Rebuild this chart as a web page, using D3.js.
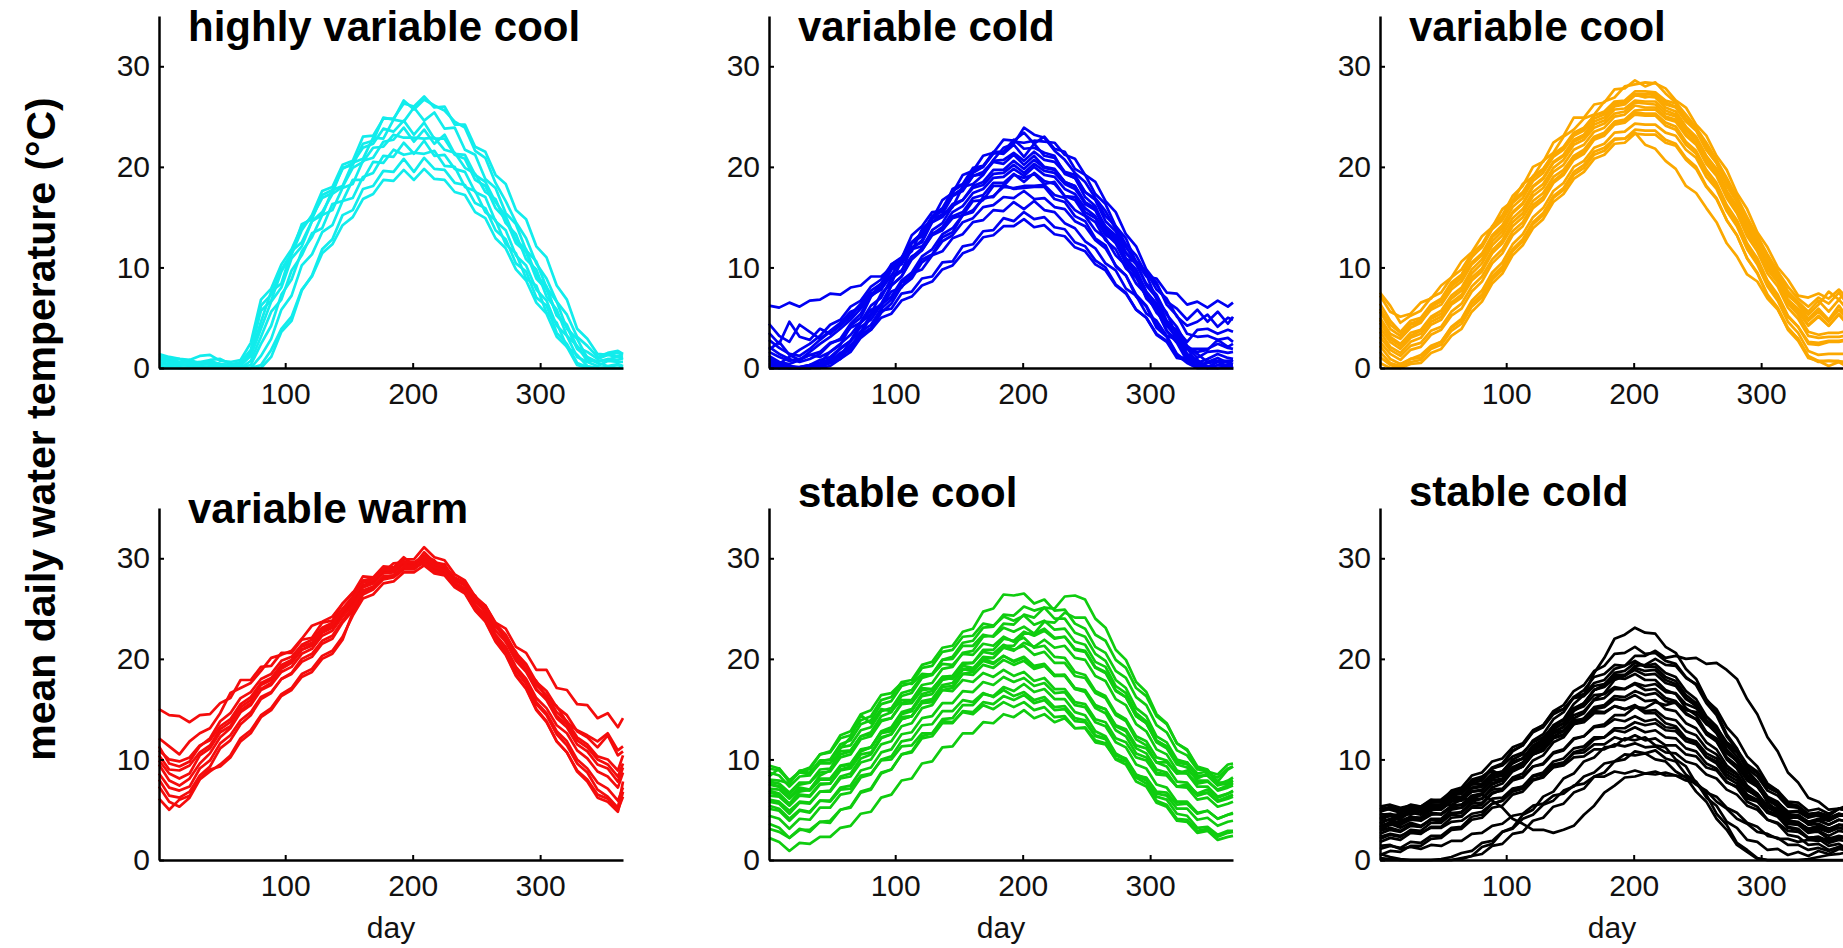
<!DOCTYPE html>
<html>
<head>
<meta charset="utf-8">
<script src="https://cdn.jsdelivr.net/npm/d3@7"></script>
<style>
  html, body { margin: 0; padding: 0; background: #fff; }
  svg { display: block; }
</style>
</head>
<body>
<svg id="chart" width="1843" height="948"></svg>
<script>
// Sampled day-of-year positions shared by every series
const days = [1,9,17,25,33,41,49,57,65,73,81,89,97,105,113,121,129,137,145,153,161,169,177,185,193,201,209,217,225,233,241,249,257,265,273,281,289,297,305,313,321,329,337,345,353,361,365];

const xTicks = [100, 200, 300];
const yTicks = [0, 10, 20, 30];

const panelTitles = ["highly variable cool", "variable cold", "variable cool", "variable warm", "stable cool", "stable cold"];

// Mean daily water temperature (°C) per site, grouped by thermal class
const highlyVariableCool = [
  [1.4,1.1,0.9,0.8,1.2,1.3,0.7,0.6,0.8,2.5,6.8,7.9,10.3,11.8,14.1,15.0,16.9,17.4,19.9,20.2,22.3,22.6,24.9,24.7,26.6,25.7,26.7,26.1,25.6,24.5,23.9,21.6,20.9,18.4,16.6,14.5,12.9,10.4,8.9,6.6,5.3,3.1,2.2,1.1,1.5,1.7,1.4],
  [0.2,0.1,0,0,0.3,0.4,0.1,0,0.2,1.3,4.6,7.6,8.4,11.6,12.5,14.6,15.2,17.7,18.1,20.4,20.8,22.9,22.8,24.7,24.5,25.9,24.6,25.4,23.8,23.9,21.7,21.2,18.8,17.9,15.4,14.3,11.7,10.6,8.0,6.6,3.9,2.9,1.0,0.5,0.2,0.4,0.2],
  [1.0,0.8,0.5,0.6,0.5,0.4,0.4,0.2,0.1,0.3,2.4,4.2,7.3,8.8,11.6,13.0,15.2,15.7,17.9,18.3,20.6,20.9,22.5,22.7,23.9,22.5,23.7,22.3,23.2,21.3,21.2,19.2,18.5,16.5,15.1,12.7,11.8,9.2,8.1,5.2,4.1,1.9,1.1,0.6,0.9,0.8,1.0],
  [0.6,0.4,0.3,0.2,0.5,0.3,0.2,0.1,0,0,1.2,2.9,5.8,7.2,10.2,11.3,13.5,14.2,16.6,16.9,19.0,19.4,21.1,21.0,22.4,21.3,22.6,21.1,21.2,19.8,19.5,17.5,17.0,14.6,13.7,11.2,10.2,7.8,6.7,4.2,3.2,1.1,0.6,0.2,0.7,0.6,0.6],
  [0,0,0,0,0,0,0,0,0,0,0,1.1,3.6,4.7,7.7,9.2,11.8,12.8,15.2,15.7,17.8,18.1,19.6,19.5,20.8,19.5,20.9,19.8,19.7,18.4,18.2,16.4,15.9,13.7,12.8,10.4,9.6,7.0,6.2,3.5,2.4,0.5,0.1,0,0,0,0],
  [0.9,0.7,0.9,0.5,0.6,0.8,0.9,0.4,0.5,1.6,6.2,7.3,9.8,11.4,14.3,14.8,17.2,17.7,19.8,20.4,21.9,22.3,23.8,23.5,24.6,23.2,24.4,22.8,22.8,21.2,20.8,18.7,18.1,15.9,14.8,12.4,11.5,8.9,7.8,5.3,4.3,2.1,1.6,0.9,1.3,1.1,0.9],
  [0.4,0.3,0.2,0.4,0.2,0.1,0.1,0,0,0.7,3.1,5.6,6.8,9.7,11.2,13.4,13.9,16.3,16.6,18.7,18.7,20.5,20.4,21.7,21.2,21.4,21.3,21.6,20.1,20.0,18.0,17.6,15.5,14.7,12.3,11.4,8.9,8.2,5.5,4.5,2.1,1.3,0.2,0,0.1,0.3,0.1],
  [0.8,0.6,0.4,0.8,0.5,0.6,0.4,0.3,0.6,1.8,5.7,6.7,9.6,11.3,13.7,15.2,17.6,18.0,20.2,20.6,23.0,23.1,24.8,24.8,26.3,26.0,27.0,25.9,26.0,24.2,24.2,22.0,21.5,19.2,18.3,15.7,14.8,12.1,11.0,8.2,6.8,3.9,2.9,1.4,1.3,1.5,1.3],
  [0,0,0,0,0,0,0,0,0,0,0.3,1.8,3.9,5.1,7.8,9.1,11.4,12.3,14.2,15.0,16.8,17.3,18.7,18.6,19.7,18.7,19.8,18.8,18.7,17.5,17.2,15.5,14.9,12.9,11.9,9.8,8.7,6.5,5.4,3.1,2.1,0.3,0,0,0,0,0],
  [1.2,1.0,0.6,0.5,0.5,0.7,0.4,0.3,0.3,1.2,3.9,6.6,8.0,10.9,12.1,14.6,15.5,17.3,18.0,19.9,20.5,21.9,22.0,23.2,22.9,22.9,22.8,22.9,21.7,21.4,19.9,19.3,17.5,16.8,14.4,13.3,10.8,9.8,7.1,5.8,3.2,2.2,0.7,0.7,0.8,1.2,1.1]
];

const variableCold = [
  [6.2,6.0,6.5,6.1,6.7,6.8,7.4,7.3,8.0,8.2,9.1,9.1,10.0,10.4,11.8,12.1,13.4,13.7,14.9,15.2,16.6,16.7,18.1,18.1,19.2,18.9,19.3,18.3,18.5,17.1,17.0,15.5,14.9,13.2,12.7,10.8,10.6,9.1,8.9,7.5,7.4,6.3,6.6,6.0,6.7,6.1,6.5],
  [3.5,2.4,4.6,3.1,2.8,3.9,3.4,4.2,5.1,6.3,7.2,8.4,9.2,10.8,11.8,12.7,14.9,15.2,16.0,18.0,18.3,19.2,20.7,21.9,22.3,23.9,23.2,22.9,21.6,20.7,19.4,18.5,16.9,15.6,13.8,12.0,10.6,9.6,7.8,6.9,5.1,4.2,4.6,5.3,4.1,5.0,4.8],
  [1.2,0.6,0.4,0.8,1.3,1.1,1.6,2.4,3.3,4.6,6.2,7.0,8.9,9.6,12.0,12.5,14.5,15.3,17.1,17.9,19.4,20.0,21.5,21.5,22.7,21.8,21.9,21.4,21.1,19.3,18.9,17.0,16.1,13.8,12.9,10.4,9.4,6.9,5.9,3.7,2.7,1.0,0.5,0.9,1.4,1.0,0.9],
  [0.4,0.2,0,0,0.1,0.4,0.5,1.3,1.8,3.3,4.0,5.7,5.9,7.4,7.6,8.9,9.1,10.5,10.6,12.1,12.3,13.6,13.7,14.9,14.6,15.5,14.8,15.0,14.0,13.8,12.5,12.1,10.7,10.0,8.3,7.5,5.8,5.0,3.3,2.6,1.0,0.8,0.1,0.5,0.6,0.6,0.4],
  [2.1,1.4,0.9,0.6,0.9,1.4,2.4,2.9,4.4,5.4,7.2,7.8,9.8,10.3,12.4,13.1,15.0,15.6,17.1,17.6,19.1,19.3,20.5,20.3,21.2,20.2,21.1,20.0,19.8,18.5,18.1,16.3,15.7,13.6,12.6,10.6,9.7,7.5,6.4,4.3,3.6,1.9,1.6,1.8,2.8,2.1,2.4],
  [0,0,0,0,0,0.2,0.5,1.2,2.0,3.6,4.3,5.9,6.8,8.5,9.1,10.8,11.3,13.0,13.5,15.2,15.5,17.0,17.0,18.2,17.8,17.9,18.0,18.0,16.8,16.5,15.1,14.6,12.9,12.2,10.1,9.2,7.1,6.1,4.0,3.1,1.3,0.5,0,0,0,0,0],
  [0.3,0,0,0.1,0.3,0.5,1.6,2.3,4.2,5.0,7.1,8.0,10.3,10.9,13.2,14.1,15.5,15.6,17.8,18.3,19.9,20.1,21.4,21.3,22.2,21.0,22.3,21.1,20.9,19.5,19.2,17.5,16.7,14.6,13.6,11.5,10.5,8.2,7.0,4.7,3.5,1.4,0.8,0.1,0.6,0.2,0.2],
  [1.6,1.1,0.7,0.9,1.3,1.6,2.5,2.8,4.0,4.5,5.8,6.2,7.6,8.0,9.4,9.8,11.2,11.6,12.9,13.3,14.5,14.7,15.7,15.6,16.5,15.8,16.6,15.7,15.5,14.4,13.9,12.6,11.9,10.4,9.7,7.9,7.2,5.4,4.7,3.2,2.8,1.9,1.9,1.9,2.4,2.0,1.9],
  [0,0,0.2,0,0.3,0.5,0.9,1.9,2.7,4.5,5.4,7.4,8.4,10.7,11.6,13.8,14.8,16.7,17.4,19.2,19.6,21.1,21.4,22.7,22.6,23.4,22.3,23.0,21.8,21.5,19.8,19.2,17.3,16.3,14.1,12.9,10.5,9.3,6.8,5.5,3.1,2.0,0.4,0.2,0,0.2,0],
  [4.4,3.2,2.6,4.3,3.6,2.9,3.7,4.5,5.6,6.0,7.4,7.8,9.2,9.7,11.1,11.7,13.2,13.7,15.1,15.5,16.9,17.2,18.4,18.4,19.3,18.5,19.4,18.6,18.3,17.1,16.7,15.2,14.5,12.7,11.8,9.9,9.0,7.1,6.2,4.4,3.8,2.6,3.8,3.9,3.4,3.8,3.6],
  [0.5,0.1,0,0,0,0.1,0.5,0.9,2.3,3.3,5.2,6.2,8.2,9.1,11.0,11.9,13.7,14.4,16.1,16.7,18.1,18.5,19.7,19.7,20.6,19.8,20.7,19.9,19.7,18.5,18.1,16.5,15.9,14.0,13.0,10.9,9.8,7.6,6.4,4.2,3.1,1.2,0.6,0,0.3,0.3,0.3],
  [0.8,0.3,0.1,0,0.2,0.5,0.7,1.5,2.1,3.3,3.8,5.0,5.4,6.7,7.1,8.2,8.6,9.8,10.2,11.4,11.8,13.0,13.2,14.1,14.1,14.8,14.0,14.2,13.3,13.1,12.0,11.6,10.3,9.7,8.2,7.4,5.8,5.0,3.4,2.7,1.2,0.9,0.2,0.6,0.7,0.7,0.7],
  [1.8,2.6,1.3,0.8,1.6,2.4,3.1,3.9,4.8,5.9,7.3,8.0,9.8,10.7,12.5,13.4,15.1,15.9,17.6,18.2,19.7,20.0,21.3,21.5,22.5,22.4,22.6,22.5,22.4,21.2,20.8,19.2,18.5,16.6,15.5,13.3,12.1,9.8,8.5,6.3,5.2,3.4,3.1,3.2,2.8,3.0,2.6],
  [0,0,0,0,0,0,0.2,0.9,1.6,3.0,3.8,5.5,6.4,8.1,8.9,10.5,11.2,12.6,13.2,14.5,14.9,16.0,16.2,17.0,16.9,17.6,16.8,16.9,16.0,15.8,14.6,14.1,12.7,11.9,10.2,9.2,7.3,6.2,4.3,3.2,1.4,0.6,0,0,0,0,0],
  [2.8,2.0,1.4,1.2,1.9,2.8,3.6,4.4,5.3,6.4,7.7,8.4,10.0,10.8,12.5,13.4,15.0,15.7,17.2,17.8,19.1,19.5,20.6,20.7,21.4,20.6,21.5,20.7,20.5,19.4,18.9,17.5,16.8,15.1,14.1,12.3,11.2,9.3,8.3,6.6,5.9,4.8,5.8,4.6,5.6,4.4,5.1],
  [0.2,0,0,0,0,0.2,0.7,1.2,2.7,3.6,5.4,6.4,8.2,9.1,10.8,11.7,13.3,14.0,15.5,16.1,17.4,17.8,18.9,19.0,19.8,19.1,20.0,19.2,19.0,17.8,17.3,15.9,15.1,13.4,12.4,10.4,9.2,7.1,5.8,3.7,2.5,0.7,0.2,0,0,0.1,0],
  [1.0,0.5,0.2,0.1,0.3,0.8,1.1,2.0,2.7,4.1,4.8,6.3,7.1,8.7,9.5,11.1,11.8,13.3,13.9,15.2,15.7,16.8,17.1,18.0,17.9,18.1,18.1,18.2,17.2,16.9,15.7,15.1,13.7,12.9,11.2,10.2,8.4,7.3,5.5,4.5,2.8,2.1,1.0,1.6,1.7,1.5,1.6],
  [0.6,0.4,1.1,1.8,2.4,3.2,4.3,4.8,6.1,6.7,8.1,8.8,10.3,11.0,12.5,13.2,14.5,15.0,16.3,16.7,17.9,18.2,19.3,19.4,20.2,19.4,20.3,19.6,19.4,18.3,17.8,16.4,15.7,14.1,13.2,11.4,10.3,8.4,7.3,5.3,4.1,2.2,1.4,0.6,1.0,0.5,0.8]
];

const variableCool = [
  [7.2,5.6,5.1,5.4,6.5,6.9,8.2,9.0,10.6,11.5,13.1,14.0,15.8,16.6,18.3,19.0,20.6,21.4,23.0,23.7,24.8,25.2,26.5,26.9,28.0,28.2,28.4,28.3,27.8,26.6,25.9,24.2,23.1,21.1,19.7,17.4,15.8,13.5,12.0,10.0,8.8,7.2,7.0,7.4,6.9,7.8,7.3],
  [5.6,3.9,3.2,4.3,4.6,5.8,6.3,7.8,8.6,10.3,11.2,13.0,13.9,15.5,16.4,18.1,18.9,20.5,21.2,22.7,23.2,24.5,24.9,26.0,26.2,27.1,27.0,26.9,25.9,25.5,24.0,23.0,21.1,19.8,17.6,16.1,13.8,12.4,10.1,8.8,6.8,5.9,4.7,5.6,4.6,5.8,5.2],
  [3.1,1.8,1.2,2.2,2.5,3.7,4.1,5.6,6.4,8.1,9.1,10.8,11.8,13.6,14.5,16.2,17.0,18.6,19.4,20.9,21.5,22.8,23.3,24.4,24.6,25.4,25.3,25.3,24.4,24.0,22.5,21.6,19.7,18.4,16.2,14.7,12.4,10.9,8.7,7.3,5.2,4.1,2.4,2.3,2.6,2.6,2.7],
  [2.2,0.9,0.4,0.9,1.3,2.2,2.6,4.0,4.7,6.4,7.3,9.1,10.1,11.8,12.8,14.5,15.4,17.1,17.9,19.5,20.2,21.5,21.9,22.8,22.8,23.4,22.2,21.8,20.6,19.8,18.1,17.4,15.9,14.5,12.4,11.1,9.3,8.6,6.9,5.8,3.9,2.9,1.1,0.6,0.7,0.7,0.6],
  [6.4,4.7,3.6,4.7,5.0,6.3,6.9,8.5,9.3,11.1,12.0,13.8,14.7,16.4,17.3,18.9,19.7,21.2,21.9,23.3,23.8,25.1,25.5,26.5,26.6,27.5,27.5,27.4,26.6,26.3,24.8,23.9,22.0,20.7,18.5,17.0,14.7,13.2,11.0,9.6,7.6,6.6,5.6,6.7,5.6,6.8,6.2],
  [4.0,2.6,1.9,3.0,3.4,4.6,5.1,6.5,7.3,9.0,9.9,11.7,12.7,14.5,15.4,17.1,17.9,19.5,20.2,21.7,22.2,23.5,23.9,25.0,25.2,26.1,25.9,25.9,25.0,24.7,23.3,22.4,20.6,19.3,17.1,15.7,13.4,12.0,9.8,8.5,6.4,5.3,3.6,3.3,3.5,3.5,3.6],
  [1.1,0.3,0,0.6,0.8,1.9,2.3,3.7,4.4,6.1,7.0,8.8,9.8,11.6,12.6,14.3,15.2,16.9,17.7,19.2,19.9,21.2,21.6,22.7,22.8,23.7,23.6,23.6,22.7,22.3,20.9,20.0,18.1,16.9,14.7,13.2,10.9,9.4,7.2,5.9,3.8,2.7,1.0,0.7,0.7,0.6,0.6],
  [5.0,3.4,2.9,4.0,4.5,6.0,6.7,8.3,9.2,11.0,12.1,14.1,15.2,17.1,18.1,20.0,20.5,22.4,23.1,24.9,24.9,26.2,26.4,27.7,27.8,28.6,28.0,28.4,27.3,26.4,25.2,23.9,22.4,20.7,18.9,17.0,15.0,13.1,11.3,9.6,8.1,6.9,6.1,7.0,6.4,7.5,6.8],
  [2.6,1.4,0.8,1.8,2.1,3.3,3.8,5.2,5.9,7.6,8.6,10.4,11.4,13.2,14.1,15.9,16.7,18.4,19.2,20.7,21.3,22.7,23.1,24.2,24.4,25.2,25.1,25.1,24.1,23.7,22.2,21.3,19.4,18.1,15.9,14.4,12.1,10.6,8.4,7.1,5.1,4.1,2.6,2.5,2.7,2.7,2.8],
  [4.8,3.1,2.4,3.5,3.8,5.1,5.7,7.2,8.0,9.8,10.8,12.6,13.6,15.4,16.3,18.0,18.8,20.4,21.1,22.5,23.0,24.2,24.6,25.7,25.8,26.6,26.5,26.5,25.6,25.2,23.8,22.9,21.0,19.7,17.5,16.0,13.7,12.2,10.0,8.7,6.6,5.6,4.2,5.1,4.2,5.3,4.7],
  [0.5,0,0,0.4,0.5,1.5,1.9,3.2,3.9,5.6,6.6,8.4,9.4,11.2,12.2,13.9,14.8,16.5,17.3,18.8,19.5,20.8,21.2,22.3,22.4,23.3,23.2,23.2,22.4,22.1,20.7,19.8,18.0,16.8,14.7,13.2,10.9,9.5,7.3,6.0,4.0,2.9,1.2,0.7,0.2,0.6,0.3],
  [7.5,6.2,4.5,5.2,5.7,7.0,7.5,9.0,9.8,11.4,12.3,14.0,14.9,16.6,17.5,19.1,19.8,21.3,22.0,23.4,23.9,25.1,25.4,26.4,26.5,27.2,27.2,27.3,26.4,26.0,24.6,23.7,21.7,20.4,18.1,16.5,14.1,12.6,10.4,9.1,7.2,6.4,5.3,6.3,7.6,6.8,7.4],
  [3.6,2.1,1.5,2.6,3.0,4.3,4.8,6.3,7.0,8.7,9.6,11.4,12.4,14.1,15.0,16.6,17.4,19.0,19.7,21.1,21.7,23.0,23.4,24.5,24.7,25.6,25.7,25.7,24.8,24.5,23.1,22.2,20.3,19.1,16.9,15.4,13.1,11.6,9.4,8.1,6.0,4.9,3.2,3.0,3.1,3.1,3.2],
  [5.9,4.3,3.5,4.4,4.8,6.1,6.6,8.1,8.9,10.5,11.4,13.2,14.2,16.0,16.9,18.6,19.4,21.0,21.7,23.1,23.6,24.8,25.2,26.2,26.4,27.2,26.9,27.1,26.2,25.9,24.5,23.6,21.7,20.4,18.2,16.7,14.4,12.9,10.7,9.3,7.3,6.3,4.9,5.9,4.8,6.2,5.5],
  [1.6,0.5,0.2,0.9,1.0,2.1,2.6,4.1,4.9,6.7,7.7,9.5,10.5,12.3,13.3,15.0,15.9,17.6,18.4,20.0,20.6,21.9,22.3,23.4,23.5,24.3,24.2,24.2,23.4,23.1,21.7,20.9,19.0,17.8,15.6,14.1,11.8,10.3,8.1,6.7,4.6,3.5,1.7,1.3,1.4,1.4,1.4],
  [4.5,2.9,2.2,3.2,3.7,4.9,5.4,6.9,7.7,9.4,10.4,12.2,13.2,14.9,15.8,17.5,18.3,19.9,20.7,22.2,22.7,23.9,24.3,25.3,25.5,26.4,26.3,26.2,25.3,25.0,23.6,22.7,20.8,19.5,17.3,15.8,13.5,12.1,9.9,8.6,6.6,5.7,4.3,5.2,4.2,5.4,4.8]
];

const variableWarm = [
  [15.0,14.4,14.3,13.7,14.4,14.5,15.6,16.1,17.9,17.9,19.2,19.3,20.6,20.6,21.9,22.1,23.6,23.8,25.5,26.5,28.2,28.1,29.2,29.1,30.1,29.3,30.6,29.6,29.4,27.8,27.7,25.9,25.3,23.6,23.0,21.2,20.6,18.9,18.9,17.1,16.9,15.5,15.4,14.1,14.6,13.2,14.1],
  [12.1,11.3,10.5,11.8,12.6,13.1,14.6,16.6,17.1,17.6,18.8,20.1,20.4,20.8,22.0,23.3,23.7,24.2,25.5,26.6,27.3,27.7,28.6,29.5,29.6,29.4,30.2,29.8,28.7,27.4,27.0,26.3,24.5,23.6,21.7,20.7,18.8,17.8,16.1,15.3,13.7,12.9,12.4,11.8,12.6,10.9,11.3],
  [8.6,7.2,6.9,7.3,9.1,9.9,11.6,12.4,13.9,14.7,16.2,16.7,18.0,18.5,19.7,20.2,21.5,22.0,23.6,24.8,26.6,27.1,28.1,28.3,29.1,29.0,29.8,28.9,28.6,27.4,26.8,25.1,24.0,22.1,20.8,18.8,17.5,15.5,14.4,12.5,11.4,9.6,8.7,7.0,6.3,5.2,7.8],
  [10.4,9.0,8.9,9.4,10.7,11.4,13.0,13.7,15.2,15.9,17.4,17.9,19.2,19.7,20.9,21.3,22.6,23.1,24.5,25.6,27.3,27.6,28.6,28.7,29.5,29.4,30.1,29.2,29.0,27.8,27.3,25.7,24.7,22.8,21.7,19.8,18.7,16.9,16.0,14.3,13.5,11.9,11.2,10.0,9.5,8.3,9.6],
  [6.1,5.0,6.0,6.4,8.1,9.0,9.3,10.2,11.8,12.6,14.2,14.9,16.3,16.9,18.2,18.7,20.0,20.5,21.9,24.6,26.4,26.9,27.9,28.1,28.9,28.9,29.7,28.8,28.5,27.3,26.6,24.9,23.8,21.8,20.5,18.4,17.1,15.0,13.8,11.8,10.7,8.8,7.8,6.2,5.8,4.8,6.8],
  [9.5,7.9,7.4,8.1,9.6,10.6,12.2,13.1,14.7,15.4,16.9,17.4,18.7,19.2,20.5,21.0,22.3,22.8,24.2,25.4,27.1,27.5,28.5,28.6,29.4,29.3,30.0,29.1,28.8,27.6,27.0,25.4,24.3,22.4,21.2,19.2,18.0,16.1,15.1,13.4,12.6,10.9,10.1,8.8,8.3,7.2,8.7],
  [11.3,9.6,9.3,9.8,11.3,12.1,13.8,14.6,16.1,16.7,18.0,18.5,19.8,20.2,21.4,21.9,23.1,23.6,25.0,26.2,27.8,28.0,28.9,29.0,29.9,29.9,31.1,30.1,29.8,28.4,27.8,26.2,25.3,23.5,22.4,20.6,19.5,17.7,16.8,15.2,14.4,12.8,12.2,11.2,12.4,10.4,10.8],
  [7.3,5.8,5.3,6.2,8.0,8.8,9.5,10.4,12.1,12.9,14.4,15.1,16.5,17.1,18.5,19.0,20.3,20.8,22.2,24.3,26.0,26.4,27.5,27.7,28.6,28.6,29.3,28.5,28.3,27.1,26.5,24.8,23.7,21.7,20.4,18.3,17.0,14.9,13.7,11.8,10.7,8.9,8.0,6.5,6.1,5.0,6.3],
  [9.9,8.6,8.1,8.6,10.4,11.1,12.7,13.3,14.9,15.6,17.0,17.6,19.0,19.6,20.9,21.4,22.7,23.2,24.7,25.8,27.6,27.8,28.8,28.8,29.6,29.5,30.3,29.5,29.2,28.0,27.4,25.9,25.0,23.2,22.1,20.1,18.9,17.0,15.9,14.1,13.2,11.5,10.8,9.5,9.1,7.8,9.2],
  [8.0,6.4,6.2,6.8,8.4,9.3,11.1,11.9,13.5,14.4,16.0,16.6,18.0,18.6,20.0,20.5,21.8,22.3,23.8,25.1,26.8,27.2,28.2,28.3,29.1,29.1,29.5,28.7,28.4,27.2,26.6,25.0,24.0,22.1,20.9,18.9,17.7,15.7,14.6,12.8,11.8,10.0,9.1,7.7,7.1,5.9,7.2],
  [10.9,10.0,9.8,10.2,11.4,11.9,13.3,14.0,15.5,16.2,17.6,18.1,19.4,19.9,21.2,21.6,22.9,23.4,24.8,26.0,27.6,27.8,28.8,28.9,29.7,29.6,30.2,29.4,29.2,28.1,27.6,26.1,25.2,23.4,22.3,20.4,19.3,17.4,16.4,14.7,13.8,12.2,11.5,10.3,10.0,8.9,10.4]
];

const stableCool = [
  [8.3,9.1,7.7,8.8,9.2,10.5,10.7,12.1,12.4,13.9,14.3,15.9,16.2,17.7,17.9,19.4,19.7,21.1,21.3,22.7,23.0,24.7,25.0,26.4,26.3,26.5,25.5,25.9,24.8,24.9,23.5,23.0,21.2,20.6,18.8,18.1,16.2,15.4,13.4,12.7,10.9,10.4,9.0,8.9,7.8,9.0,9.3],
  [7.5,7.3,6.6,7.5,7.7,8.7,8.8,10.2,10.5,12.0,12.3,13.8,14.1,15.6,15.9,17.4,17.6,19.0,19.2,20.6,20.8,22.2,22.3,23.5,23.4,24.4,24.1,25.1,25.0,26.2,26.3,25.9,24.0,23.1,20.9,19.9,17.7,16.7,14.5,13.6,11.6,10.9,9.2,8.9,7.6,7.5,7.7],
  [2.2,1.8,0.9,1.7,1.6,2.3,2.3,3.2,3.4,4.6,4.8,6.2,6.5,7.9,8.1,9.6,9.8,11.2,11.3,12.6,12.6,13.7,13.6,14.5,14.2,14.9,14.1,14.5,13.7,14.1,13.1,13.2,11.9,11.6,10.0,9.5,7.8,7.3,5.7,5.3,3.9,3.8,2.7,2.9,2.0,2.3,2.4],
  [3.1,2.8,2.2,3.0,3.0,3.8,3.9,5.0,5.3,6.8,7.1,8.7,9.0,10.5,10.7,12.1,12.3,13.6,13.6,14.8,14.7,15.7,15.5,16.3,15.9,16.4,15.6,15.9,14.9,15.0,13.8,13.7,12.3,12.0,10.4,10.0,8.4,7.9,6.3,6.0,4.6,4.4,3.2,3.3,2.5,2.9,2.9],
  [6.4,6.3,5.4,6.4,6.3,7.5,7.6,9.0,9.3,10.8,11.2,12.8,13.2,14.7,15.0,16.5,16.8,18.2,18.3,19.6,19.6,20.7,20.5,21.4,20.9,21.3,20.4,20.7,19.6,19.6,18.3,18.1,16.6,16.1,14.4,13.8,12.0,11.4,9.7,9.3,7.8,7.7,6.5,6.7,5.8,6.1,6.3],
  [8.7,8.4,7.3,8.3,8.4,9.8,10.0,11.5,11.9,13.5,13.9,15.5,15.8,17.3,17.6,19.1,19.3,20.7,20.9,22.2,22.3,23.5,23.3,24.2,23.8,24.3,23.4,23.8,22.9,23.0,21.7,21.4,19.7,19.2,17.3,16.6,14.6,13.8,11.9,11.3,9.7,9.5,8.3,8.4,7.5,7.9,8.2],
  [5.1,4.9,3.9,4.9,4.7,5.9,5.9,7.2,7.4,8.9,9.2,10.7,11.0,12.5,12.7,14.1,14.3,15.6,15.6,16.8,16.7,17.7,17.4,18.2,17.7,18.1,17.3,17.6,16.6,16.7,15.4,15.2,13.7,13.3,11.7,11.2,9.5,9.1,7.5,7.2,5.8,5.8,4.7,4.9,4.1,4.5,4.6],
  [7.1,7.0,6.1,7.0,6.9,8.0,8.0,9.3,9.5,10.9,11.2,12.7,13.0,14.5,14.8,16.3,16.5,17.9,18.1,19.5,19.6,20.9,20.9,22.0,21.8,22.7,22.3,22.8,22.0,22.2,21.0,20.8,19.2,18.7,16.9,16.2,14.3,13.6,11.7,11.1,9.5,9.2,7.9,7.9,6.9,7.2,7.4],
  [6.9,6.6,5.6,6.8,7.0,8.4,8.9,11.1,12.2,14.4,13.6,15.0,14.8,15.9,15.9,17.1,17.0,18.1,18.0,19.0,18.8,19.8,19.5,20.3,19.8,20.2,19.3,19.5,18.4,18.4,17.0,16.7,15.1,14.6,12.9,12.3,10.6,10.2,8.7,8.5,7.3,7.4,6.4,6.7,5.9,6.3,6.5],
  [3.6,3.2,2.2,3.1,2.8,3.8,3.7,5.0,5.2,6.7,7.0,8.6,9.0,10.5,10.8,12.3,12.6,14.0,14.1,15.4,15.4,16.5,16.3,17.2,16.8,17.5,16.7,17.0,16.0,16.0,14.7,14.4,12.8,12.3,10.6,10.0,8.2,7.6,5.9,5.5,4.1,4.0,2.9,3.1,2.3,2.7,2.8],
  [7.8,7.6,6.7,7.7,7.7,9.0,9.1,10.5,10.8,12.3,12.7,14.3,14.7,16.3,16.6,18.1,18.4,19.9,20.2,21.6,21.8,23.1,23.2,24.4,24.3,25.2,24.8,25.1,24.0,24.0,22.6,22.2,20.5,19.8,17.9,17.1,15.1,14.3,12.3,11.7,10.0,9.7,8.4,8.4,7.4,7.7,7.9],
  [5.8,5.6,4.6,5.7,5.6,6.8,6.9,8.3,8.6,10.1,10.5,12.1,12.5,14.0,14.3,15.7,15.9,17.2,17.3,18.5,18.4,19.4,19.1,19.9,19.4,19.8,19.0,19.3,18.3,18.4,17.1,16.9,15.4,15.0,13.3,12.8,11.1,10.6,9.0,8.7,7.3,7.2,6.0,6.2,5.3,5.6,5.8],
  [9.1,8.9,7.9,8.8,8.7,9.9,9.9,11.2,11.4,12.9,13.2,14.8,15.1,16.6,16.9,18.3,18.5,19.9,20.0,21.3,21.3,22.4,22.2,23.1,22.7,23.2,22.5,23.0,22.1,22.2,20.9,20.7,19.1,18.6,16.8,16.2,14.3,13.6,11.8,11.3,9.8,9.7,8.6,8.8,8.5,9.5,9.6],
  [4.4,4.1,3.1,4.1,4.0,5.2,5.2,6.5,6.7,8.2,8.5,10.0,10.3,11.8,12.0,13.4,13.5,14.8,14.8,15.9,15.7,16.6,16.2,16.9,16.3,16.7,15.9,16.2,15.2,15.3,14.1,13.9,12.4,12.1,10.5,10.1,8.5,8.1,6.6,6.4,5.1,5.1,4.0,4.2,3.4,3.8,3.9],
  [6.7,6.5,5.5,6.5,6.4,7.6,7.6,8.9,9.1,10.5,10.7,12.2,12.5,14.0,14.3,15.8,16.0,17.4,17.6,18.9,19.0,20.2,20.1,21.1,20.8,21.6,21.2,21.9,21.1,21.3,20.1,19.9,18.3,17.8,16.0,15.4,13.5,12.8,11.0,10.5,8.9,8.6,7.3,7.3,6.3,6.6,6.8],
  [7.6,7.3,6.3,7.2,7.0,8.1,8.1,9.4,9.6,11.0,11.2,12.6,12.8,14.2,14.3,15.6,15.7,16.9,16.8,17.9,17.7,18.6,18.2,18.9,18.3,18.7,17.8,18.1,17.0,17.0,15.7,15.5,14.0,13.7,12.1,11.7,10.2,9.9,8.5,8.4,7.3,7.5,6.6,7.0,6.2,6.6,6.9],
  [8.0,7.9,7.6,8.9,9.0,10.5,10.8,12.4,12.8,14.5,14.9,16.4,16.6,17.6,17.5,18.5,18.4,19.5,19.4,20.5,20.4,21.5,21.3,22.2,21.7,22.1,21.1,21.3,20.2,20.1,18.7,18.4,16.8,16.3,14.6,14.0,12.3,11.8,10.2,9.9,8.6,8.6,7.6,7.8,7.0,7.4,7.6],
  [5.4,5.1,4.1,5.0,4.8,5.9,5.8,7.0,7.1,8.4,8.6,9.9,10.0,11.3,11.4,12.6,12.6,13.8,13.7,14.7,14.5,15.4,15.0,15.7,15.2,15.7,14.9,15.2,14.2,14.3,13.1,13.1,11.7,11.5,10.1,9.8,8.4,8.2,6.8,6.7,5.5,5.6,4.6,4.9,4.1,4.5,4.7],
  [6.0,5.8,4.9,5.8,5.7,6.8,6.8,8.1,8.3,9.7,10.0,11.5,11.8,13.3,13.6,15.1,15.4,16.9,17.1,18.5,18.7,20.0,20.1,21.3,21.3,22.5,22.5,23.7,23.6,24.6,24.1,24.1,22.4,21.8,19.9,19.1,17.1,16.3,14.3,13.5,11.6,11.0,9.3,9.0,7.7,7.7,7.9],
  [9.4,9.1,7.9,8.7,8.5,9.6,9.6,10.8,10.9,12.3,12.5,13.9,14.1,15.5,15.6,16.9,17.0,18.2,18.2,19.3,19.1,20.0,19.6,20.3,19.7,20.1,19.2,19.4,18.3,18.3,17.0,16.8,15.3,15.0,13.4,13.0,11.4,11.1,9.7,9.7,8.6,8.9,8.1,8.6,8.2,9.1,9.3]
];

const stableCold = [
  [3.2,3.8,3.7,4.3,4.2,5.0,5.0,5.8,5.9,6.8,7.0,8.1,8.4,9.6,10.1,11.4,12.0,13.4,14.0,15.5,16.4,18.6,20.1,22.0,22.4,23.1,22.6,22.5,21.2,20.6,19.0,18.0,16.0,14.7,12.5,11.1,8.9,7.6,5.7,4.9,3.7,3.6,2.9,3.1,2.8,3.5,3.5],
  [4.8,5.1,4.9,5.2,5.1,5.8,5.7,6.6,6.8,7.8,8.1,9.2,9.6,10.9,11.4,12.7,13.2,14.5,15.0,16.2,16.5,17.6,17.9,19.0,19.3,20.3,20.3,20.8,20.1,20.3,20.0,20.1,19.5,19.6,18.9,18.0,16.0,14.5,12.2,10.8,8.7,7.7,6.2,5.8,5.0,5.1,5.0],
  [4.1,4.5,4.4,5.0,4.8,5.5,5.5,6.4,6.6,7.6,7.9,9.1,9.5,10.8,11.4,12.8,13.4,14.8,15.4,16.8,17.4,18.8,19.3,20.5,20.6,21.2,20.5,20.6,19.8,19.5,18.2,17.4,15.6,14.4,12.3,11.0,8.9,7.8,6.1,5.5,4.4,4.4,3.8,4.1,3.9,4.5,4.4],
  [3.6,4.1,4.1,4.8,4.8,5.7,5.8,6.9,7.2,8.4,8.7,9.8,10.1,11.2,11.6,12.9,13.4,14.7,15.0,16.1,16.3,17.3,17.5,18.4,18.4,19.1,18.8,18.9,17.9,17.5,16.1,15.3,13.6,12.6,10.8,9.8,8.1,7.3,5.9,5.5,4.5,4.5,3.8,4.0,3.5,4.0,3.9],
  [5.2,5.0,4.7,5.1,4.9,5.5,5.4,6.2,6.3,7.2,7.4,8.5,8.8,10.0,10.5,11.9,12.5,14.0,14.7,16.2,16.9,18.2,18.5,19.4,19.3,19.8,19.2,19.2,18.2,17.8,16.4,15.6,13.9,12.9,11.0,10.0,8.2,7.4,6.0,5.7,4.8,4.9,4.3,4.7,4.4,5.1,5.1],
  [2.6,3.0,2.8,3.4,3.3,4.1,4.1,5.0,5.2,6.2,6.5,7.6,8.0,9.2,9.7,11.0,11.6,13.0,13.6,15.0,15.6,16.9,17.2,18.1,18.0,18.5,17.9,17.9,16.9,16.5,15.1,14.4,12.7,11.8,10.0,9.1,7.4,6.6,5.2,4.7,3.6,3.5,2.7,2.9,2.4,2.9,2.8],
  [4.5,4.6,4.3,4.9,4.7,5.4,5.3,6.1,6.2,7.1,7.3,8.3,8.6,9.7,10.1,11.3,11.8,13.1,13.6,14.9,15.3,16.4,16.5,17.2,17.0,17.5,16.9,17.0,16.1,15.8,14.6,14.0,12.5,11.8,10.2,9.4,7.9,7.3,6.0,5.7,4.8,4.8,4.2,4.5,4.1,4.6,4.5],
  [1.8,2.2,2.0,2.7,2.6,3.3,3.3,4.2,4.3,5.3,5.5,6.6,7.0,8.2,8.6,9.9,10.4,11.7,12.2,13.5,13.9,15.0,15.2,16.0,15.9,16.4,15.8,15.9,15.0,14.8,13.6,13.1,11.7,11.0,9.4,8.6,7.0,6.3,4.9,4.4,3.3,3.1,2.2,2.3,1.7,2.0,1.9],
  [3.9,4.0,3.7,4.2,4.0,4.7,4.6,5.4,5.5,6.4,6.6,7.6,7.9,9.0,9.3,10.5,10.9,12.1,12.4,13.5,13.7,14.6,14.6,15.3,15.0,15.4,14.8,14.9,14.1,13.9,12.8,12.4,11.1,10.5,9.1,8.5,7.1,6.6,5.4,5.1,4.2,4.2,3.6,3.9,3.5,4.0,3.9],
  [2.9,3.2,2.9,3.5,3.3,4.0,3.9,4.7,4.7,5.6,5.7,6.7,6.9,7.9,8.2,9.3,9.6,10.7,11.0,12.1,12.3,13.2,13.3,14.0,13.8,14.3,13.8,14.0,13.2,13.1,12.1,11.8,10.6,10.1,8.8,8.2,6.9,6.4,5.2,4.9,3.9,3.8,3.1,3.3,2.8,3.2,3.1],
  [1.1,1.4,1.2,1.8,1.7,2.4,2.4,3.2,3.3,4.3,4.5,5.6,5.9,7.0,7.3,8.4,8.7,9.8,10.1,11.1,11.3,12.2,12.2,12.9,12.7,13.2,12.7,12.9,12.2,12.1,11.1,10.8,9.6,9.1,7.8,7.2,5.8,5.3,4.0,3.6,2.5,2.3,1.5,1.6,1.0,1.3,1.2],
  [0,0,0,0,0,0,0,0,0.2,0.4,1.3,1.6,2.8,3.2,4.5,5.0,6.3,6.8,8.1,8.6,9.8,10.2,11.2,11.3,12.1,11.9,12.2,11.4,11.2,10.0,9.3,7.6,6.5,4.6,3.5,1.7,1.0,0.2,0,0,0,0,0,0,0,0,0],
  [4.6,4.4,4.6,4.5,4.9,4.9,5.4,5.5,6.0,6.1,6.5,5.9,5.2,4.1,3.6,3.0,3.0,2.7,3.0,3.4,4.5,5.4,6.7,7.4,8.2,8.3,8.6,8.5,8.7,8.4,8.3,7.5,6.9,5.8,5.1,4.1,3.6,2.8,2.6,2.1,2.1,1.8,2.0,1.9,2.2,2.1,2.3],
  [0.6,0.3,0.1,0,0,0,0.1,0.3,0.7,0.9,1.7,1.9,2.8,3.1,4.1,4.5,5.5,5.9,6.9,7.3,8.3,8.7,9.6,9.8,10.5,10.4,10.6,10.0,9.8,8.8,8.2,6.8,5.8,4.1,3.0,1.5,0.8,0.1,0,0,0,0,0.1,0.3,0.5,0.6,0.7],
  [2.3,2.6,2.4,2.8,2.7,3.2,3.2,3.8,3.9,4.6,4.8,5.6,5.9,6.8,7.1,8.0,8.3,9.2,9.4,10.2,10.3,11.0,11.0,11.5,11.3,11.6,11.2,11.3,10.7,10.6,9.8,9.5,8.5,8.1,7.0,6.5,5.4,5.0,4.0,3.7,2.9,2.8,2.2,2.3,1.9,2.2,2.2],
  [5.3,5.5,5.2,5.4,5.3,5.9,6.0,6.8,7.0,7.9,8.2,9.1,9.4,10.3,10.7,11.7,12.2,13.3,13.9,15.1,15.6,16.9,17.3,18.3,18.3,18.9,18.4,18.5,17.6,17.3,16.0,15.4,13.9,13.1,11.5,10.7,9.1,8.3,6.9,6.4,5.3,5.2,4.5,4.7,4.4,5.1,5.3],
  [3.3,3.7,3.5,4.0,3.9,4.5,4.6,5.3,5.5,6.3,6.6,7.5,7.9,8.9,9.3,10.5,10.9,12.1,12.5,13.7,14.1,15.2,15.4,16.3,16.2,16.8,16.4,16.6,15.8,15.6,14.5,14.0,12.7,12.1,10.6,9.9,8.4,7.7,6.3,5.8,4.6,4.4,3.5,3.6,3.1,3.5,3.4],
  [1.4,1.5,1.1,1.3,1.1,1.5,1.4,1.9,1.9,2.6,2.7,3.4,3.6,4.4,4.6,5.4,5.6,6.4,6.6,7.4,7.6,8.3,8.3,8.8,8.6,8.9,8.6,8.8,8.4,8.4,7.9,7.7,6.7,6.3,5.2,4.7,3.7,3.3,2.4,2.2,1.5,1.5,1.0,1.2,0.9,1.3,1.2],
  [4.0,4.4,4.2,4.7,4.5,5.2,5.1,5.9,6.0,6.8,6.9,7.9,8.1,9.2,9.5,10.7,11.1,12.3,12.8,14.1,14.6,16.0,16.6,17.9,18.3,19.3,19.4,20.0,19.4,19.3,18.1,17.5,15.9,15.0,13.2,12.1,10.3,9.3,7.6,6.9,5.5,5.2,4.3,4.4,3.9,4.4,4.4],
  [0.5,0.9,0.8,1.4,1.4,2.1,2.2,3.0,3.1,4.0,4.2,5.2,5.4,6.5,6.8,7.9,8.2,9.3,9.6,10.7,11.0,12.0,12.2,13.1,13.1,13.7,13.4,13.6,12.9,12.8,11.8,11.5,10.3,9.8,8.5,7.9,6.5,6.0,4.7,4.3,3.2,3.0,2.1,2.1,1.4,1.6,1.3],
  [5.0,5.3,5.0,5.5,5.3,6.0,5.9,6.6,6.6,7.5,7.6,8.6,8.8,9.8,10.1,11.2,11.6,12.8,13.2,14.4,14.8,15.9,16.1,17.0,17.0,17.6,17.3,17.5,16.7,16.6,15.5,15.1,13.8,13.2,11.7,11.0,9.5,8.8,7.4,6.9,5.8,5.7,4.9,5.1,4.6,5.1,5.0],
  [3.5,3.6,3.2,3.7,3.4,4.0,3.8,4.5,4.4,5.2,5.2,6.1,6.2,7.1,7.3,8.3,8.5,9.5,9.7,10.6,10.7,11.5,11.5,12.2,11.9,12.4,11.9,12.1,11.4,11.4,10.5,10.3,9.2,8.9,7.7,7.3,6.1,5.8,4.7,4.5,3.6,3.7,3.1,3.4,3.0,3.5,3.4],
  [2.1,2.5,2.3,3.0,2.9,3.7,3.7,4.6,4.8,5.8,6.1,7.2,7.6,8.8,9.3,10.6,11.2,12.6,13.3,14.8,15.5,16.9,17.4,18.6,18.8,19.6,19.3,19.5,18.6,18.2,16.8,16.0,14.3,13.3,11.4,10.3,8.5,7.6,6.0,5.3,4.0,3.7,2.8,2.8,2.1,2.4,2.3],
  [4.3,4.4,3.9,4.3,4.0,4.6,4.5,5.2,5.2,6.0,6.1,7.0,7.1,8.1,8.3,9.3,9.5,10.6,10.9,12.0,12.3,13.3,13.5,14.4,14.4,15.2,15.1,15.7,15.4,15.7,14.9,14.7,13.5,13.0,11.5,10.8,9.3,8.6,7.2,6.7,5.6,5.4,4.6,4.7,4.2,4.6,4.5],
  [0.2,0.1,0,0,0,0,0,0,0.1,0.4,0.6,1.4,1.6,2.6,2.8,3.9,4.2,5.3,5.6,6.7,7.1,8.3,8.7,9.8,10.0,10.8,10.6,10.9,10.1,9.8,8.5,7.8,6.2,5.4,3.8,3.2,2.0,1.8,1.0,1.1,0.5,0.8,0.4,0.9,0.6,1.1,1.0],
  [3.0,3.5,3.5,4.2,4.2,5.1,5.3,6.4,6.8,8.0,8.3,8.9,8.4,9.2,9.6,10.9,11.4,12.6,12.9,13.9,14.0,14.8,14.7,15.3,15.0,15.3,14.6,14.6,13.6,13.3,12.1,11.6,10.2,9.6,8.2,7.6,6.3,5.9,4.8,4.6,3.7,3.7,3.1,3.3,2.8,3.2,3.1]
];

// ---- layout ----
const W = 1843, H = 948;
const colLeft = [159, 769, 1380];
const rowBase = [368, 860];
const plotW = 464, plotH = 352;
const fontFamily = '"Liberation Sans", Arial, Helvetica, sans-serif';

const panels = [
  { title: panelTitles[0], series: highlyVariableCool, color: "#12ecec", col: 0, row: 0, titleY: 41 },
  { title: panelTitles[1], series: variableCold,       color: "#0000f2", col: 1, row: 0, titleY: 41 },
  { title: panelTitles[2], series: variableCool,       color: "#fba800", col: 2, row: 0, titleY: 41 },
  { title: panelTitles[3], series: variableWarm,       color: "#f40c0c", col: 0, row: 1, titleY: 523 },
  { title: panelTitles[4], series: stableCool,         color: "#0fcc0f", col: 1, row: 1, titleY: 507 },
  { title: panelTitles[5], series: stableCold,         color: "#000000", col: 2, row: 1, titleY: 506 }
];

const svg = d3.select("#chart").attr("width", W).attr("height", H);
svg.append("rect").attr("width", W).attr("height", H).attr("fill", "#fff");

panels.forEach(p => {
  const left = colLeft[p.col], base = rowBase[p.row];
  const x = d3.scaleLinear().domain([1, 365]).range([left, left + plotW]);
  const y = d3.scaleLinear().domain([0, 35]).range([base, base - plotH]);

  const line = d3.line()
    .x((d, i) => x(days[i]))
    .y(d => y(d));

  const g = svg.append("g");

  g.selectAll("path.series")
    .data(p.series)
    .join("path")
    .attr("class", "series")
    .attr("d", line)
    .attr("fill", "none")
    .attr("stroke", p.color)
    .attr("stroke-width", 2.7)
    .attr("stroke-linejoin", "round");

  // y axis (ticks pointing inward)
  const yAxis = g.append("g")
    .attr("transform", `translate(${left},0)`)
    .call(d3.axisLeft(y).tickValues(yTicks).tickFormat(d3.format("d"))
      .tickSizeInner(-5).tickSizeOuter(0).tickPadding(9));

  // x axis (ticks pointing inward)
  const xAxis = g.append("g")
    .attr("transform", `translate(0,${base})`)
    .call(d3.axisBottom(x).tickValues(xTicks).tickFormat(d3.format("d"))
      .tickSizeInner(-5).tickSizeOuter(0).tickPadding(15));

  [yAxis, xAxis].forEach(a => {
    a.select(".domain").attr("stroke", "#000").attr("stroke-width", 2.5);
    a.selectAll(".tick line").attr("stroke", "#000").attr("stroke-width", 2);
    a.selectAll(".tick text")
      .attr("fill", "#111")
      .style("font-family", fontFamily)
      .style("font-size", "30px");
  });

  // panel title
  svg.append("text")
    .attr("x", left + 29)
    .attr("y", p.titleY)
    .attr("fill", "#000")
    .style("font-family", fontFamily)
    .style("font-weight", "bold")
    .style("font-size", "42px")
    .text(p.title);

  if (p.row === 1) {
    svg.append("text")
      .attr("x", left + plotW / 2)
      .attr("y", 938)
      .attr("text-anchor", "middle")
      .attr("fill", "#111")
      .style("font-family", fontFamily)
      .style("font-size", "30px")
      .text("day");
  }
});

// shared y-axis label
svg.append("text")
  .attr("transform", "translate(55,429) rotate(-90)")
  .attr("text-anchor", "middle")
  .attr("fill", "#000")
  .style("font-family", fontFamily)
  .style("font-weight", "bold")
  .style("font-size", "41px")
  .text("mean daily water temperature (°C)");
</script>
</body>
</html>
